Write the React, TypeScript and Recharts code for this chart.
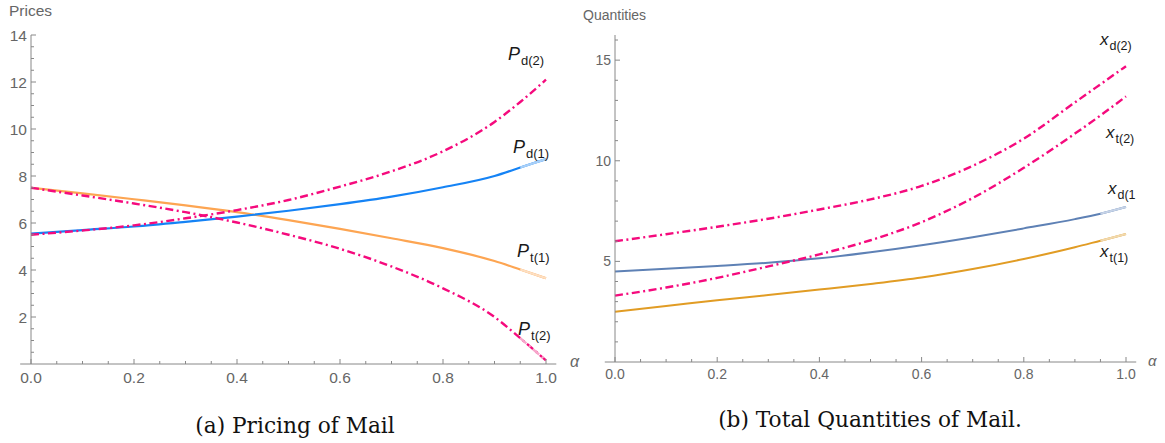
import { LineChart, Line, XAxis, YAxis, ReferenceLine } from 'recharts';

// alpha grid shared by both panels
const alpha = [0, 0.1, 0.2, 0.3, 0.4, 0.5, 0.6, 0.7, 0.8, 0.9, 0.95, 1];

// (a) prices
const priceD2 = [5.5, 5.68, 5.9, 6.2, 6.55, 6.98, 7.55, 8.2, 9.05, 10.3, 11.15, 12.1];
const priceD1 = [5.55, 5.7, 5.85, 6.05, 6.27, 6.52, 6.8, 7.12, 7.52, 8.0, 8.36, 8.72];
const priceT1 = [7.5, 7.26, 7.01, 6.75, 6.46, 6.12, 5.75, 5.35, 4.93, 4.38, 4.02, 3.65];
const priceT2 = [7.5, 7.17, 6.83, 6.46, 6.02, 5.5, 4.9, 4.15, 3.22, 2.0, 1.1, 0.15];

// (b) quantities
const qtyD2 = [6.0, 6.35, 6.72, 7.12, 7.58, 8.08, 8.75, 9.75, 11.1, 12.9, 13.8, 14.7];
const qtyT2 = [3.3, 3.7, 4.18, 4.75, 5.35, 6.05, 6.95, 8.15, 9.65, 11.35, 12.25, 13.2];
const qtyD1 = [4.5, 4.63, 4.77, 4.93, 5.15, 5.45, 5.8, 6.2, 6.64, 7.1, 7.37, 7.7];
const qtyT1 = [2.5, 2.78, 3.07, 3.33, 3.6, 3.88, 4.2, 4.62, 5.12, 5.7, 6.03, 6.36];

const xTicks = Array.from({ length: 21 }, (_, i) => i * 0.05);
const priceTicks = Array.from({ length: 28 }, (_, i) => (i + 1) * 0.5);
const qtyTicks = Array.from({ length: 16 }, (_, i) => i + 1);

const TAIL = 10; // index where the label-faded tail starts

const tail = (arr: number[], i: number) => (i >= TAIL ? arr[i] : null);

const pricesData = alpha.map((a, i) => ({
  a,
  pd2: priceD2[i],
  pd1: priceD1[i],
  pt1: priceT1[i],
  pt2: priceT2[i],
  pd1Tail: tail(priceD1, i),
  pt1Tail: tail(priceT1, i),
  pt2Tail: tail(priceT2, i),
}));

const qtyData = alpha.map((a, i) => ({
  a,
  xd2: qtyD2[i],
  xt2: qtyT2[i],
  xd1: qtyD1[i],
  xt1: qtyT1[i],
  xd1Tail: tail(qtyD1, i),
  xt1Tail: tail(qtyT1, i),
}));

const PINK = '#F50A7D';
const DASH = '8 3.5 2 3.5';
const AXIS = '#888';
const LABEL = '#666';
const SANS = '"Liberation Sans", Arial, sans-serif';
const SERIF = '"DejaVu Serif", serif';

function XTick(props: any) {
  const { x, y, payload, fs, dy } = props;
  const v = payload.value;
  const major = Math.abs(v * 5 - Math.round(v * 5)) < 1e-6;
  return (
    <g>
      <line x1={x} x2={x} y1={y} y2={y - (major ? 5 : 3)} stroke={AXIS} />
      {major && (
        <text x={x} y={y + dy} textAnchor="middle" fill={LABEL} fontSize={fs} fontFamily={SANS}>
          {v.toFixed(1)}
        </text>
      )}
    </g>
  );
}

function YTick(props: any) {
  const { x, y, payload, fs, every } = props;
  const v = payload.value;
  const major = Math.abs(v / every - Math.round(v / every)) < 1e-6;
  return (
    <g>
      <line x1={x} x2={x + (major ? 5 : 3)} y1={y} y2={y} stroke={AXIS} />
      {major && (
        <text x={x - 4} y={y + fs * 0.36} textAnchor="end" fill={LABEL} fontSize={fs} fontFamily={SANS}>
          {v}
        </text>
      )}
    </g>
  );
}

function Sym({ x, y, base, sub, size, subSize }: any) {
  return (
    <text x={x} y={y} fill="#1a1a1a" fontFamily={SANS}>
      <tspan fontStyle="italic" fontSize={size}>{base}</tspan>
      <tspan fontSize={subSize} dy={5} dx={1}>{sub}</tspan>
    </text>
  );
}

export default function App() {
  return (
    <div style={{ position: 'absolute', left: 0, top: 0, width: 1165, height: 443, background: '#fff' }}>
      <div style={{ position: 'absolute', left: 0, top: 0 }}>
        <LineChart width={580} height={443} data={pricesData} margin={{ top: 35, right: 34, bottom: 49, left: 0 }}>
          <XAxis
            dataKey="a"
            type="number"
            domain={[0, 1]}
            ticks={xTicks}
            interval={0}
            axisLine={false}
            tickLine={false}
            tickSize={0}
            tickMargin={0}
            height={30}
            tick={(p: any) => <XTick {...p} fs={15.5} dy={19} />}
          />
          <YAxis
            type="number"
            domain={[0, 14]}
            ticks={priceTicks}
            interval={0}
            width={31}
            stroke={AXIS}
            tickLine={false}
            tickSize={0}
            tickMargin={0}
            tick={(p: any) => <YTick {...p} fs={15.5} every={2} />}
          />
          <ReferenceLine segment={[{ x: -0.021, y: 0 }, { x: 1.02, y: 0 }]} stroke={AXIS} ifOverflow="visible" />
          <Line type="monotone" dataKey="pt1" stroke="#FDA552" strokeWidth={2.2} dot={false} isAnimationActive={false} />
          <Line type="monotone" dataKey="pt1Tail" stroke="#FDDFC2" strokeWidth={2.2} dot={false} isAnimationActive={false} />
          <Line type="monotone" dataKey="pd1" stroke="#1583F5" strokeWidth={2.2} dot={false} isAnimationActive={false} />
          <Line type="monotone" dataKey="pd1Tail" stroke="#A9D0F8" strokeWidth={2.2} dot={false} isAnimationActive={false} />
          <Line type="monotone" dataKey="pd2" stroke={PINK} strokeWidth={2.4} strokeDasharray={DASH} dot={false} isAnimationActive={false} />
          <Line type="monotone" dataKey="pt2" stroke={PINK} strokeWidth={2.4} strokeDasharray={DASH} dot={false} isAnimationActive={false} />
          <Line type="monotone" dataKey="pt2Tail" stroke="#F7A6CB" strokeWidth={2.4} strokeDasharray={DASH} dot={false} isAnimationActive={false} />
        </LineChart>
      </div>
      <div style={{ position: 'absolute', left: 580, top: 0 }}>
        <LineChart width={585} height={443} data={qtyData} margin={{ top: 35, right: 39, bottom: 51, left: 0 }}>
          <XAxis
            dataKey="a"
            type="number"
            domain={[0, 1]}
            ticks={xTicks}
            interval={0}
            axisLine={false}
            tickLine={false}
            tickSize={0}
            tickMargin={0}
            height={30}
            tick={(p: any) => <XTick {...p} fs={14} dy={17} />}
          />
          <YAxis
            type="number"
            domain={[0, 16.25]}
            ticks={qtyTicks}
            interval={0}
            width={35}
            stroke={AXIS}
            tickLine={false}
            tickSize={0}
            tickMargin={0}
            tick={(p: any) => <YTick {...p} fs={14} every={5} />}
          />
          <ReferenceLine segment={[{ x: -0.02, y: 0 }, { x: 1.02, y: 0 }]} stroke={AXIS} ifOverflow="visible" />
          <Line type="monotone" dataKey="xt1" stroke="#E19C24" strokeWidth={2} dot={false} isAnimationActive={false} />
          <Line type="monotone" dataKey="xt1Tail" stroke="#F1D9AE" strokeWidth={2} dot={false} isAnimationActive={false} />
          <Line type="monotone" dataKey="xd1" stroke="#5E81B5" strokeWidth={2} dot={false} isAnimationActive={false} />
          <Line type="monotone" dataKey="xd1Tail" stroke="#C6D3E7" strokeWidth={2} dot={false} isAnimationActive={false} />
          <Line type="monotone" dataKey="xt2" stroke={PINK} strokeWidth={2.4} strokeDasharray={DASH} dot={false} isAnimationActive={false} />
          <Line type="monotone" dataKey="xd2" stroke={PINK} strokeWidth={2.4} strokeDasharray={DASH} dot={false} isAnimationActive={false} />
        </LineChart>
      </div>
      <svg width={1165} height={443} style={{ position: 'absolute', left: 0, top: 0, pointerEvents: 'none' }}>
        <text x={9} y={16} fill={LABEL} fontSize={15.5} fontFamily={SANS}>Prices</text>
        <text x={583} y={20} fill={LABEL} fontSize={14} fontFamily={SANS}>Quantities</text>
        <text x={570} y={367} fill={LABEL} fontSize={16} fontStyle="italic" fontFamily={SANS}>α</text>
        <text x={1148} y={366} fill={LABEL} fontSize={15} fontStyle="italic" fontFamily={SANS}>α</text>

        <Sym x={508} y={60} base="P" sub="d(2)" size={18} subSize={13} />
        <Sym x={513} y={153} base="P" sub="d(1)" size={18} subSize={13} />
        <Sym x={517} y={257} base="P" sub="t(1)" size={18} subSize={13} />
        <Sym x={518} y={335} base="P" sub="t(2)" size={18} subSize={13} />

        <Sym x={1100} y={45} base="x" sub="d(2)" size={17} subSize={12.5} />
        <Sym x={1106} y={138} base="x" sub="t(2)" size={17} subSize={12.5} />
        <Sym x={1108} y={194} base="x" sub="d(1" size={17} subSize={12.5} />
        <Sym x={1100} y={257} base="x" sub="t(1)" size={17} subSize={12.5} />

        <text x={295} y={433} textAnchor="middle" fill="#111" fontSize={21.7} fontFamily={SERIF}>(a) Pricing of Mail</text>
        <text x={870} y={427} textAnchor="middle" fill="#111" fontSize={21.7} fontFamily={SERIF}>(b) Total Quantities of Mail.</text>
      </svg>
    </div>
  );
}
